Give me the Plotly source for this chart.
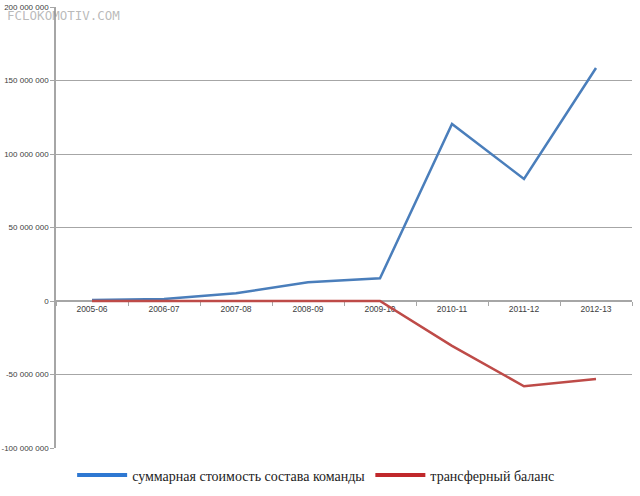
import plotly.graph_objects as go

categories = ["2005-06", "2006-07", "2007-08", "2008-09", "2009-10", "2010-11", "2011-12", "2012-13"]
squad_value = [700000, 1300000, 5200000, 12700000, 15400000, 120400000, 83000000, 158500000]
transfer_balance = [0, 0, 0, 0, 0, -30500000, -58000000, -53000000]
y_tickvals = [-100000000, -50000000, 0, 50000000, 100000000, 150000000, 200000000]
y_ticktext = ["-100 000 000", "-50 000 000", "0", "50 000 000", "100 000 000", "150 000 000", "200 000 000"]
name_blue = "суммарная стоимость состава команды"
name_red = "трансферный баланс"

fig = go.Figure()
fig.add_trace(go.Scatter(x=categories, y=squad_value, mode="lines",
                         line=dict(color="#4A7EBB", width=2.5), showlegend=False))
fig.add_trace(go.Scatter(x=categories, y=transfer_balance, mode="lines",
                         line=dict(color="#BE4B48", width=2.5), showlegend=False))
# legend entries
fig.add_trace(go.Scatter(x=[None], y=[None], mode="lines", name=name_blue,
                         line=dict(color="#2E78D2", width=4)))
fig.add_trace(go.Scatter(x=[None], y=[None], mode="lines", name=name_red,
                         line=dict(color="#C0282B", width=4)))

fig.update_layout(
    width=640, height=496,
    margin=dict(l=56, r=8, t=7, b=48, autoexpand=False),
    paper_bgcolor="white", plot_bgcolor="white",
    font=dict(family="Liberation Sans, sans-serif", size=8, color="#404040"),
    legend=dict(orientation="h", x=0.028, xanchor="left", y=-0.026, yanchor="top",
                font=dict(family="Liberation Serif", size=14, color="#222222"),
                itemwidth=50),
    annotations=[dict(text="FCLOKOMOTIV.COM", xref="paper", yref="paper", x=-0.088, y=1.0,
                      xanchor="left", yanchor="top", yshift=1, showarrow=False,
                      font=dict(family="DejaVu Sans Mono, monospace", size=12.5, color="rgba(140,140,140,0.6)"))],
)
fig.update_xaxes(type="category", range=[-0.5, 7.5], anchor="free", position=1/3,
                 showline=True, linecolor="#A6A6A6", linewidth=1.5,
                 ticks="outside", tickson="boundaries", ticklen=4, tickcolor="#A6A6A6",
                 showgrid=False, layer="below traces", automargin=False,
                 tickfont=dict(family="Liberation Sans", size=8.5, color="#404040"))
fig.update_yaxes(range=[-100000000, 200000000], tickvals=y_tickvals, ticktext=y_ticktext,
                 showline=True, linecolor="#A6A6A6", linewidth=1.5,
                 showgrid=True, gridcolor="#A6A6A6", gridwidth=1,
                 zeroline=True, zerolinecolor="#A6A6A6", zerolinewidth=1,
                 ticks="outside", ticklen=4, tickcolor="#A6A6A6", automargin=False,
                 layer="below traces", tickfont=dict(family="Liberation Sans", size=8, color="#404040"))

fig.write_html("out.html", config={"displayModeBar": False},
               post_script="document.body.style.margin='0';")
